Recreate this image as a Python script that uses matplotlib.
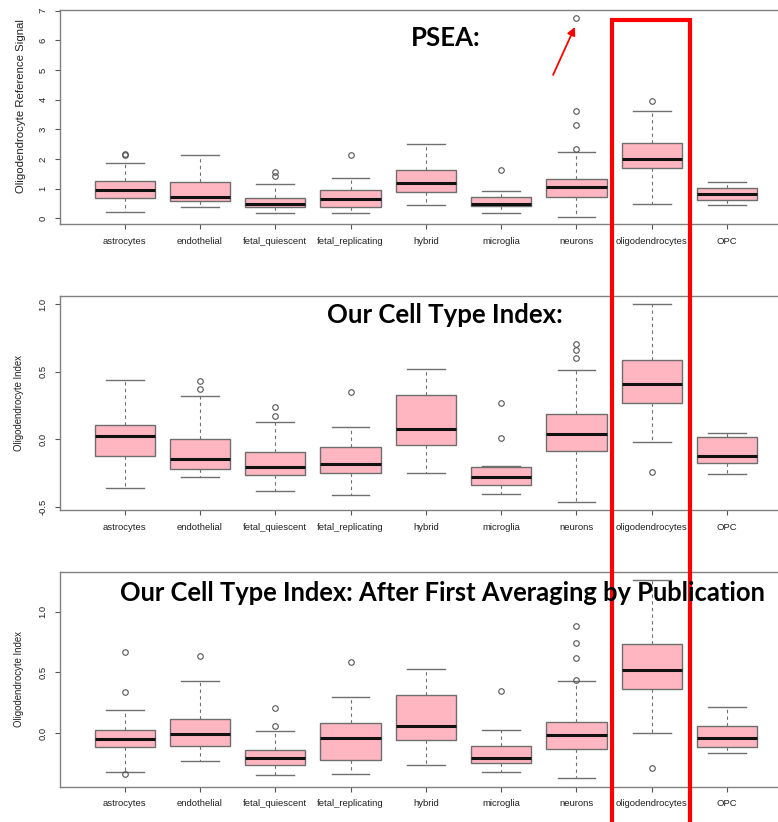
import matplotlib.pyplot as plt
from matplotlib.patches import Rectangle
import numpy as np

W, H = 778, 822

cell_types = ["astrocytes", "endothelial", "fetal_quiescent", "fetal_replicating",
              "hybrid", "microglia", "neurons", "oligodendrocytes", "OPC"]

# PSEA reference signal
psea_whislo = [0.20, 0.37, 0.19, 0.17, 0.46, 0.17, 0.06, 0.49, 0.46]
psea_q1 = [0.67, 0.58, 0.37, 0.39, 0.90, 0.40, 0.73, 1.68, 0.61]
psea_med = [0.97, 0.73, 0.48, 0.65, 1.19, 0.48, 1.07, 1.99, 0.81]
psea_q3 = [1.25, 1.24, 0.69, 0.97, 1.64, 0.71, 1.33, 2.54, 1.03]
psea_whishi = [1.86, 2.15, 1.16, 1.36, 2.49, 0.93, 2.23, 3.60, 1.21]
psea_fliers = [[2.15, 2.18], [], [1.43, 1.56], [2.13], [], [1.64],
               [2.32, 3.14, 3.62, 6.75], [3.94], []]

# cell type index
cti_whislo = [-0.36, -0.277, -0.38, -0.415, -0.252, -0.403, -0.465, -0.017, -0.26]
cti_q1 = [-0.124, -0.218, -0.265, -0.247, -0.042, -0.336, -0.089, 0.267, -0.173]
cti_med = [0.025, -0.15, -0.203, -0.183, 0.074, -0.282, 0.035, 0.41, -0.124]
cti_q3 = [0.106, -0.002, -0.094, -0.057, 0.33, -0.208, 0.183, 0.586, 0.02]
cti_whishi = [0.44, 0.32, 0.126, 0.089, 0.52, -0.198, 0.512, 1.0, 0.049]
cti_fliers = [[], [0.37, 0.43], [0.17, 0.24], [0.35], [], [0.012, 0.27],
              [0.603, 0.658, 0.707], [-0.245], []]

# cell type index, averaged by publication first
avg_whislo = [-0.324, -0.234, -0.346, -0.341, -0.266, -0.319, -0.374, 0.003, -0.162]
avg_q1 = [-0.115, -0.104, -0.266, -0.223, -0.06, -0.247, -0.132, 0.363, -0.113]
avg_med = [-0.049, -0.011, -0.203, -0.038, 0.055, -0.209, -0.019, 0.522, -0.038]
avg_q3 = [0.027, 0.118, -0.14, 0.08, 0.316, -0.11, 0.091, 0.736, 0.058]
avg_whishi = [0.192, 0.429, 0.019, 0.297, 0.525, 0.027, 0.426, 1.261, 0.212]
avg_fliers = [[-0.341, 0.341, 0.665], [0.637], [0.055, 0.203], [0.582], [], [0.343],
              [0.434, 0.615, 0.742, 0.879], [-0.286], []]

GRAY = "#808080"


def px_axes(fig, left, top, right, bottom):
    return fig.add_axes([left / W, 1 - bottom / H, (right - left) / W, (bottom - top) / H])


def yticks_fmt(vals):
    if all(float(v).is_integer() for v in vals) and max(vals) > 2:
        return [str(int(v)) for v in vals]
    return ["%.1f" % v for v in vals]


def draw_panel(ax, whislo, q1, med, q3, whishi, fliers, ylim, yticks, ylabel, label_size):
    stats = []
    for i in range(len(cell_types)):
        stats.append(dict(whislo=whislo[i], q1=q1[i], med=med[i], q3=q3[i],
                          whishi=whishi[i], fliers=fliers[i]))
    ax.bxp(stats, positions=np.arange(1, 10), widths=0.8, capwidths=0.5,
           patch_artist=True,
           boxprops=dict(facecolor="#FFB6C1", edgecolor="#6e6e6e", linewidth=1.0),
           medianprops=dict(color="#111111", linewidth=2.2, solid_capstyle="butt"),
           whiskerprops=dict(color="#707070", linewidth=0.8, linestyle=(0, (3, 3))),
           capprops=dict(color="#707070", linewidth=1.0),
           flierprops=dict(marker="o", markerfacecolor="none", markeredgecolor="#555555",
                           markersize=4, markeredgewidth=0.8))
    ax.set_xlim(0.14, 9.86)
    ax.set_ylim(*ylim)
    ax.set_xticks(np.arange(1, 10))
    ax.set_xticklabels(cell_types, fontsize=6.8, color="#222222", family="Liberation Sans")
    ax.set_yticks(yticks)
    ax.set_yticklabels(yticks_fmt(yticks), fontsize=6.8, color="#222222",
                       family="Liberation Sans", rotation=90, va="center")
    ax.tick_params(axis="both", length=3.6, width=0.8, color="#555555", pad=5.5)
    for s in ax.spines.values():
        s.set_color(GRAY)
        s.set_linewidth(1.0)
    ax.set_ylabel(ylabel, fontsize=label_size, color="#222222", family="Liberation Sans")
    ax.yaxis.set_label_coords(-0.049, 0.5)


fig = plt.figure(figsize=(W / 100, H / 100), dpi=100)

ax1 = px_axes(fig, 60, 10, 791.7, 224.5)
draw_panel(ax1, psea_whislo, psea_q1, psea_med, psea_q3, psea_whishi, psea_fliers,
           (-0.208, 7.018), [0, 1, 2, 3, 4, 5, 6, 7], "Oligodendrocyte Reference Signal", 8.2)
ax1.yaxis.set_label_coords(-0.047, 0.55)

ax2 = px_axes(fig, 60, 296, 791.7, 510)
draw_panel(ax2, cti_whislo, cti_q1, cti_med, cti_q3, cti_whishi, cti_fliers,
           (-0.524, 1.06), [-0.5, 0.0, 0.5, 1.0], "Oligodendrocyte Index", 6.9)

ax3 = px_axes(fig, 60, 572, 791.7, 786.5)
draw_panel(ax3, avg_whislo, avg_q1, avg_med, avg_q3, avg_whishi, avg_fliers,
           (-0.44, 1.326), [0.0, 0.5, 1.0], "Oligodendrocyte Index", 6.9)

# headings
title_kw = dict(fontsize=18.5, fontweight="bold", family="Lato", color="black", va="baseline")
fig.text(411 / W, 1 - 46 / H, "PSEA:", **title_kw)
fig.text(327 / W, 1 - 323 / H, "Our Cell Type Index:", **title_kw)
fig.text(120 / W, 1 - 601 / H, "Our Cell Type Index: After First Averaging by Publication",
         fontsize=18.4, fontweight="bold", family="Lato", color="black", va="baseline")

# red arrow to the neurons outlier
ax1.annotate("", xy=(6.98, 6.45), xytext=(6.69, 4.83), annotation_clip=False,
             arrowprops=dict(arrowstyle="-|>", color="#ff0000", lw=1.3,
                             mutation_scale=12, shrinkA=0, shrinkB=0))

# red frame around the oligodendrocytes column
fig.add_artist(Rectangle((611.5 / W, -0.02), (689.5 - 611.5) / W, 1.02 - 20.5 / H,
                         transform=fig.transFigure, fill=False, edgecolor="#ff0000",
                         linewidth=3.0, clip_on=False))

fig.savefig("out.png", dpi=100)
